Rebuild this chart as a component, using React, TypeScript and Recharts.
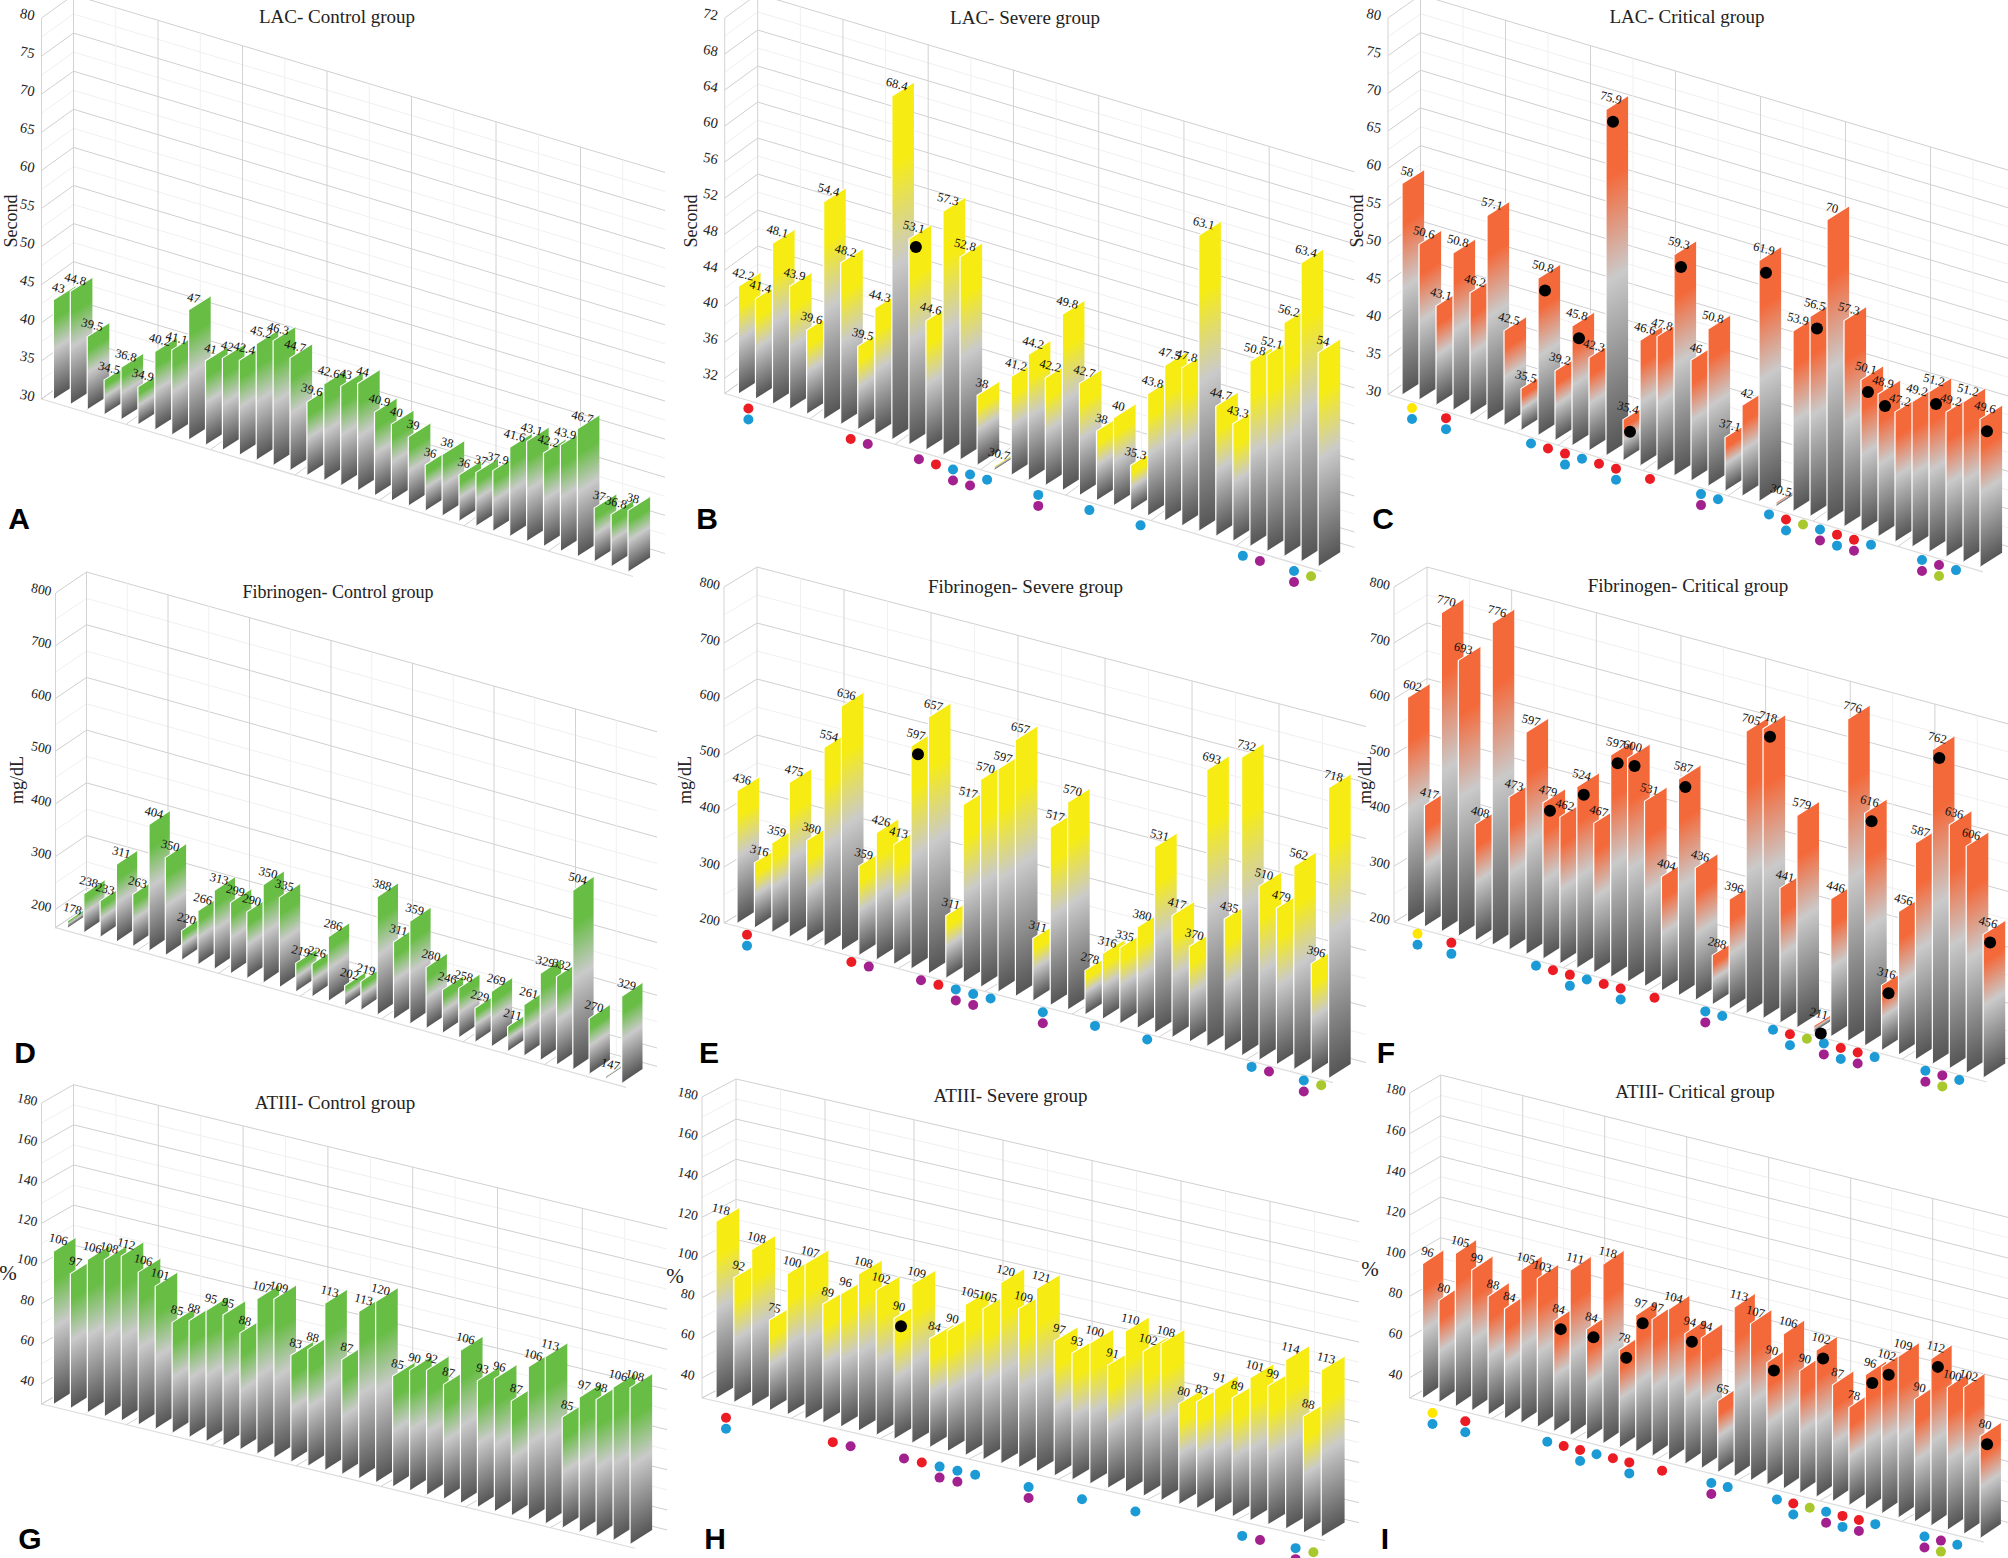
import { Bar, CartesianGrid, ComposedChart, LabelList, XAxis, YAxis } from "recharts";

// values, one bar per patient
const lacControl = [43, 44.8, 39.5, 34.5, 36.8, 34.9, 40.2, 41.1, 47, 41, 42, 42.4, 45.2, 46.3, 44.7, 39.6, 42.6, 43, 44, 40.9, 40, 39, 36, 38, 36, 37, 37.9, 41.6, 43.1, 42.2, 43.9, 46.7, 37, 36.8, 38];
const lacSevere = [42.2, 41.4, 48.1, 43.9, 39.6, 54.4, 48.2, 39.5, 44.3, 68.4, 53.1, 44.6, 57.3, 52.8, 38, 30.7, 41.2, 44.2, 42.2, 49.8, 42.7, 38, 40, 35.3, 43.8, 47.5, 47.8, 63.1, 44.7, 43.3, 50.8, 52.1, 56.2, 63.4, 54];
const lacCritical = [58, 50.6, 43.1, 50.8, 46.2, 57.1, 42.5, 35.5, 50.8, 39.2, 45.8, 42.3, 75.9, 35.4, 46.6, 47.8, 59.3, 46, 50.8, 37.1, 42, 61.9, 30.5, 53.9, 56.5, 70, 57.3, 50.1, 48.9, 47.2, 49.2, 51.2, 49.2, 51.2, 49.6];
const fibControl = [178, 238, 233, 311, 263, 404, 350, 220, 266, 313, 299, 290, 350, 335, 219, 226, 286, 202, 219, 388, 311, 359, 280, 246, 258, 229, 269, 211, 261, 329, 332, 504, 270, 147, 329];
const fibSevere = [436, 316, 359, 475, 380, 554, 636, 359, 426, 413, 597, 657, 311, 517, 570, 597, 657, 311, 517, 570, 278, 316, 335, 380, 531, 417, 370, 693, 435, 732, 510, 479, 562, 396, 718];
const fibCritical = [602, 417, 770, 693, 408, 776, 473, 597, 479, 462, 524, 467, 597, 600, 531, 404, 587, 436, 288, 396, 705, 718, 441, 579, 211, 446, 776, 616, 316, 456, 587, 762, 636, 606, 456];
const atControl = [106, 97, 106, 108, 112, 106, 101, 85, 88, 95, 95, 88, 107, 109, 83, 88, 113, 87, 113, 120, 85, 90, 92, 87, 106, 93, 96, 87, 106, 113, 85, 97, 98, 106, 108];
const atSevere = [118, 92, 108, 75, 100, 107, 89, 96, 108, 102, 90, 109, 84, 90, 105, 105, 120, 109, 121, 97, 93, 100, 91, 110, 102, 108, 80, 83, 91, 89, 101, 99, 114, 88, 113];
const atCritical = [96, 80, 105, 99, 88, 84, 105, 103, 84, 111, 84, 118, 78, 97, 97, 104, 94, 94, 65, 113, 107, 90, 106, 90, 102, 87, 78, 96, 102, 109, 90, 112, 100, 102, 80];

const lacTicks = [30, 35, 40, 45, 50, 55, 60, 65, 70, 75, 80];
const lacSevereTicks = [32, 36, 40, 44, 48, 52, 56, 60, 64, 68, 72];
const fibTicks = [200, 300, 400, 500, 600, 700, 800];
const atTicks = [40, 60, 80, 100, 120, 140, 160, 180];

// patients flagged under the floor: bar index, then the dots from top to bottom
const severeMarks: [number, ...string[]][] = [[0, "red", "blue"], [6, "red"], [7, "purple"], [10, "purple"], [11, "red"], [12, "blue", "purple"], [13, "blue", "purple"], [14, "blue"], [17, "blue", "purple"], [20, "blue"], [23, "blue"], [29, "blue"], [30, "purple"], [32, "blue", "purple"], [33, "green"]];
const criticalMarks: [number, ...string[]][] = [[0, "yellow", "blue"], [2, "red", "blue"], [7, "blue"], [8, "red"], [9, "red", "blue"], [10, "blue"], [11, "red"], [12, "red", "blue"], [14, "red"], [17, "blue", "purple"], [18, "blue"], [21, "blue"], [22, "red", "blue"], [23, "green"], [24, "blue", "purple"], [25, "red", "blue"], [26, "red", "purple"], [27, "blue"], [30, "blue", "purple"], [31, "purple", "green"], [32, "blue"]];

// bars carrying a black dot
const severeDeaths = [10];
const criticalDeaths = [8, 10, 12, 13, 16, 21, 24, 27, 28, 31, 34];

const MARK_COLORS: Record<string, string> = { red: "#ec1c24", blue: "#1b9ad6", purple: "#a3218e", yellow: "#ffe600", green: "#a8c82c" };
const GREEN = "#68bd45";
const YELLOW = "#f6ec13";
const ORANGE = "#f4693a";
const SERIF = "'Liberation Serif', serif";

const DEPTH_RISE = 14;

const panels = [
  { id: "a", title: "LAC- Control group", titleX: 337, titleY: 17, titleSize: 19, letter: "A", letterX: 19, letterY: 518, unit: "Second", unitX: 11, unitY: 221, values: lacControl, ticks: lacTicks, min: 30, max: 80, color: GREEN, x0: 41.5, yTop: 18, floor: 399, firstX: 53.4, pitch: 16.9, slope: 0.3, backX: 32, backY: 23, tickSize: 14.5, marks: [], deaths: [], markGap: 0, deathGap: 9 },
  { id: "b", title: "LAC- Severe group", titleX: 1025, titleY: 17.5, titleSize: 19, letter: "B", letterX: 707, letterY: 518, unit: "Second", unitX: 691, unitY: 221, values: lacSevere, ticks: lacSevereTicks, min: 30.3, max: 72, color: YELLOW, x0: 724.7, yTop: 18, floor: 393.5, firstX: 738.4, pitch: 17.05, slope: 0.298, backX: 33, backY: 24, tickSize: 14.5, marks: severeMarks, deaths: severeDeaths, markGap: 15, deathGap: 8 },
  { id: "c", title: "LAC- Critical group", titleX: 1687, titleY: 17, titleSize: 19, letter: "C", letterX: 1383, letterY: 518, unit: "Second", unitX: 1357, unitY: 221, values: lacCritical, ticks: lacTicks, min: 30, max: 80, color: ORANGE, x0: 1388, yTop: 18, floor: 394.5, firstX: 1402, pitch: 17, slope: 0.298, backX: 32.5, backY: 23, tickSize: 14.5, marks: criticalMarks, deaths: criticalDeaths, markGap: 13.5, deathGap: 12 },
  { id: "d", title: "Fibrinogen- Control group", titleX: 338, titleY: 592, titleSize: 18, letter: "D", letterX: 25, letterY: 1052, unit: "mg/dL", unitX: 17, unitY: 780, values: fibControl, ticks: fibTicks, min: 165, max: 800, color: GREEN, x0: 55.5, yTop: 593, floor: 927.7, firstX: 67.5, pitch: 16.3, slope: 0.28, backX: 31, backY: 21, tickSize: 13.5, marks: [], deaths: [], markGap: 0, deathGap: 9 },
  { id: "e", title: "Fibrinogen- Severe group", titleX: 1025.5, titleY: 587, titleSize: 19, letter: "E", letterX: 709, letterY: 1052, unit: "mg/dL", unitX: 685, unitY: 780, values: fibSevere, ticks: fibTicks, min: 200, max: 800, color: YELLOW, x0: 724, yTop: 587, floor: 923, firstX: 737, pitch: 17.4, slope: 0.262, backX: 33, backY: 20, tickSize: 13.5, marks: severeMarks, deaths: severeDeaths, markGap: 11.7, deathGap: 8 },
  { id: "f", title: "Fibrinogen- Critical group", titleX: 1688, titleY: 586, titleSize: 19, letter: "F", letterX: 1386, letterY: 1052, unit: "mg/dL", unitX: 1364.5, unitY: 780, values: fibCritical, ticks: fibTicks, min: 200, max: 800, color: ORANGE, x0: 1394, yTop: 587, floor: 922, firstX: 1407.5, pitch: 16.93, slope: 0.27, backX: 33, backY: 20, tickSize: 13.5, marks: criticalMarks, deaths: criticalDeaths, markGap: 11.7, deathGap: 8 },
  { id: "g", title: "ATIII- Control group", titleX: 335, titleY: 1103, titleSize: 19, letter: "G", letterX: 30, letterY: 1538, unit: "%", unitX: 8, unitY: 1274, values: atControl, ticks: atTicks, min: 30, max: 180, color: GREEN, x0: 41.5, yTop: 1103, floor: 1404, firstX: 53.4, pitch: 16.96, slope: 0.243, backX: 32, backY: 18.3, tickSize: 13.5, marks: [], deaths: [], markGap: 0, deathGap: 9 },
  { id: "h", title: "ATIII- Severe group", titleX: 1010.6, titleY: 1096, titleSize: 19, letter: "H", letterX: 715, letterY: 1538, unit: "%", unitX: 675, unitY: 1277, values: atSevere, ticks: atTicks, min: 30, max: 180, color: YELLOW, x0: 702, yTop: 1097, floor: 1398, firstX: 716, pitch: 17.8, slope: 0.229, backX: 34, backY: 18, tickSize: 13.5, marks: severeMarks, deaths: severeDeaths, markGap: 19.7, deathGap: 8 },
  { id: "i", title: "ATIII- Critical group", titleX: 1695, titleY: 1092, titleSize: 19, letter: "I", letterX: 1385, letterY: 1538, unit: "%", unitX: 1370, unitY: 1270, values: atCritical, ticks: atTicks, min: 30, max: 180, color: ORANGE, x0: 1409.7, yTop: 1093, floor: 1398, firstX: 1422.5, pitch: 16.4, slope: 0.251, backX: 31, backY: 18, tickSize: 13.5, marks: criticalMarks, deaths: criticalDeaths, markGap: 15, deathGap: 8 },
];

type Panel = (typeof panels)[number];

function gridLevels(p: Panel) {
  const step = p.ticks[1] - p.ticks[0];
  const levels: { value: number; major: boolean }[] = [{ value: p.min, major: true }];
  p.ticks.forEach((t) => {
    if (t - step / 2 > p.min) levels.push({ value: t - step / 2, major: false });
    if (t > p.min) levels.push({ value: t, major: true });
  });
  return levels;
}

function floorShift(p: Panel, x: number) {
  return (x - p.firstX) * p.slope;
}

function Plate({ p, x, y, width, height, payload }: any) {
  const h = Math.max(height, 2);
  const bottom = y + height + floorShift(p, x);
  const w = width * 1.3;
  const skew = (Math.atan(DEPTH_RISE / w) * 180) / Math.PI;
  const marks = p.marks.find((m: any) => m[0] === payload.id - 1);
  return (
    <g>
      <g transform={`translate(${x},${bottom}) skewY(${-skew})`}>
        <rect x={0} y={-h} width={w} height={h} fill={`url(#plate-${p.id})`} />
        <path d={`M0,0V${-h}H${w}`} fill="none" stroke="#fff" strokeWidth={1.2} />
      </g>
      {marks &&
        marks.slice(1).map((name: string, i: number) => (
          <circle key={name + i} cx={x + 10} cy={bottom + p.markGap + i * 11} r={5} fill={MARK_COLORS[name]} />
        ))}
    </g>
  );
}

function TopLabel({ p, x, y, height, value, index, viewBox }: any) {
  const bx = x ?? viewBox.x;
  const by = y ?? viewBox.y;
  const bh = height ?? viewBox.height;
  const top = by + bh + floorShift(p, bx) - Math.max(bh, 2);
  const cx = bx + 5;
  const cy = top - 12;
  return (
    <g>
      {p.deaths.includes(index) && <circle cx={bx + 7} cy={top + p.deathGap} r={6} fill="#000" />}
      <text x={cx} y={cy} dy={4} textAnchor="middle" fontSize={12.5} fontFamily={SERIF} fill="#111" transform={`rotate(14 ${cx} ${cy})`}>
        {value}
      </text>
    </g>
  );
}

function Chart({ p }: { p: Panel }) {
  // a reading under the floor of the plot still stands as a flat plate, its label keeps the real value
  const data = p.values.map((value, i) => ({ id: i + 1, value, level: Math.max(value, p.min) }));
  const levels = gridLevels(p);
  const plotWidth = p.firstX - p.x0 + p.values.length * p.pitch;
  const cell = p.pitch * 2.5;
  const xb = p.x0 + p.backX;
  const wallLength = cell * 14;
  const levelY = (v: number) => p.yTop + ((p.max - v) / (p.max - p.min)) * (p.floor - p.yTop);

  const horizontalLine = (line: any) => {
    const level = levels[line.index];
    const y = line.y1;
    return (
      <g key={line.key}>
        <path
          d={`M${p.x0},${y}L${xb},${y - p.backY}L${xb + wallLength},${y - p.backY + wallLength * p.slope}`}
          fill="none"
          stroke={level.major ? "#d0d0d0" : "#f0f0f0"}
          strokeWidth={1}
        />
        {line.index === 0 && (
          <path d={`M${p.x0},${y}L${p.x0 + wallLength},${y + wallLength * p.slope}`} fill="none" stroke="#dcdcdc" strokeWidth={1.2} />
        )}
      </g>
    );
  };

  const verticalLine = (line: any) => {
    const x = line.x1;
    const along = x - xb;
    const top = p.yTop - p.backY + along * p.slope;
    const back = p.floor - p.backY + along * p.slope;
    const front = p.floor + along * p.slope;
    return (
      <path
        key={line.key}
        d={`M${x},${top}L${x},${back}L${x - p.backX},${front}`}
        fill="none"
        stroke={line.index % 2 === 0 ? "#d2d2d2" : "#f0f0f0"}
        strokeWidth={1}
      />
    );
  };

  return (
    <div style={{ position: "absolute", left: 0, top: 0 }}>
      <ComposedChart
        width={2008}
        height={1558}
        data={data}
        barCategoryGap={0}
        barGap={0}
        margin={{ top: p.yTop, left: p.x0 - 40, right: 2008 - p.x0 - plotWidth, bottom: 1558 - p.floor }}
      >
        <defs>
          <linearGradient id={`plate-${p.id}`} x1="0" y1="0" x2="0" y2="1">
            <stop offset="0" stopColor={p.color} />
            <stop offset="0.2" stopColor={p.color} />
            <stop offset="0.5" stopColor="#cacaca" />
            <stop offset="1" stopColor="#565656" />
          </linearGradient>
        </defs>
        <CartesianGrid
          horizontal={horizontalLine}
          vertical={verticalLine}
          horizontalCoordinatesGenerator={() => levels.map((l) => levelY(l.value))}
          verticalCoordinatesGenerator={() => Array.from({ length: 14 }, (_, k) => xb + k * cell)}
        />
        <XAxis dataKey="id" hide padding={{ left: p.firstX - p.x0, right: 0 }} />
        <YAxis
          width={40}
          domain={[p.min, p.max]}
          ticks={p.ticks}
          interval={0}
          tickLine={false}
          axisLine={{ stroke: "#d4d4d4" }}
          tick={({ y, payload }: any) => {
            const cx = p.x0 - 14;
            const cy = y - 4;
            return (
              <text x={cx} y={cy} dy={5} textAnchor="middle" fontSize={p.tickSize} fontFamily={SERIF} fill="#222" transform={`rotate(12 ${cx} ${cy})`}>
                {payload.value}
              </text>
            );
          }}
        />
        <Bar dataKey="level" isAnimationActive={false} shape={(props: any) => <Plate {...props} p={p} />}>
          <LabelList dataKey="value" content={(props: any) => <TopLabel {...props} p={p} />} />
        </Bar>
        <text x={p.titleX} y={p.titleY} dy={6} textAnchor="middle" fontSize={p.titleSize} fontFamily={SERIF} fill="#222">
          {p.title}
        </text>
        <text
          x={p.unitX}
          y={p.unitY}
          dy={6}
          textAnchor="middle"
          fontSize={p.unit === "%" ? 21 : 18}
          fontFamily={SERIF}
          fill="#222"
          transform={p.unit === "%" ? undefined : `rotate(-90 ${p.unitX} ${p.unitY})`}
        >
          {p.unit}
        </text>
        <text x={p.letterX} y={p.letterY} dy={11} textAnchor="middle" fontSize={30} fontWeight="bold" fontFamily="'Liberation Sans', sans-serif" fill="#000">
          {p.letter}
        </text>
      </ComposedChart>
    </div>
  );
}

export default function App() {
  return (
    <div style={{ position: "absolute", left: 0, top: 0, width: 2008, height: 1558, background: "#fff", overflow: "hidden" }}>
      {panels.map((p) => (
        <Chart key={p.id} p={p} />
      ))}
    </div>
  );
}
